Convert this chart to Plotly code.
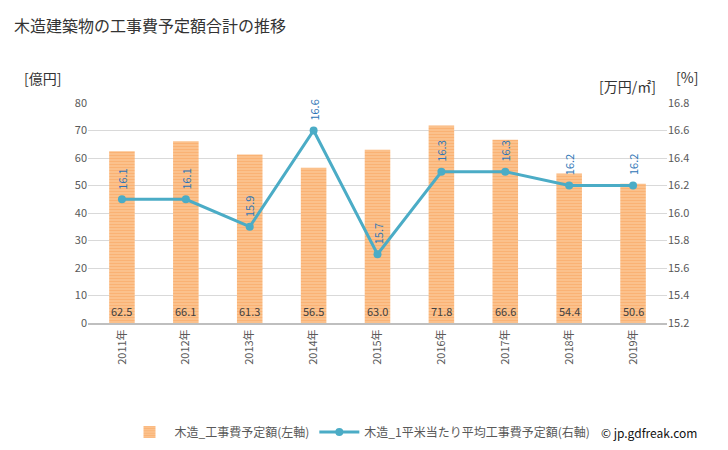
import plotly.graph_objects as go

years = ["2011年", "2012年", "2013年", "2014年", "2015年", "2016年", "2017年", "2018年", "2019年"]
cost = [62.5, 66.1, 61.3, 56.5, 63.0, 71.8, 66.6, 54.4, 50.6]
unit_cost = [16.1, 16.1, 15.9, 16.6, 15.7, 16.3, 16.3, 16.2, 16.2]

font = "Noto Sans CJK JP"
W, H = 728, 450
L, R, T, B = 88, 61, 103, 127
PW, PH = W - L - R, H - T - B


def px(x):
    return (x - L) / PW


def py(y):
    return (H - B - y) / PH


fig = go.Figure()
fig.add_trace(go.Bar(
    x=years, y=cost, name="木造_工事費予定額(左軸)",
    marker=dict(color="#FDCFA2", line=dict(width=0),
                pattern=dict(shape="-", fgcolor="#F79646", size=3, solidity=0.65)),
    width=0.4, yaxis="y",
))
fig.add_trace(go.Scatter(
    x=years, y=unit_cost, name="木造_1平米当たり平均工事費予定額(右軸)",
    mode="lines+markers", line=dict(color="#4BACC6", width=3),
    marker=dict(size=8, color="#4BACC6"), yaxis="y2",
))

for x, v in zip(years, cost):
    fig.add_annotation(x=x, y=0, xref="x", yref="y", text=f"{v:.1f}",
                       showarrow=False, yanchor="bottom", yshift=2,
                       font=dict(size=11, color="#404040", family=font))
for x, v in zip(years, unit_cost):
    fig.add_annotation(x=x, y=v, xref="x", yref="y2", text=f"{v:.1f}",
                       showarrow=False, yanchor="bottom", yshift=8, textangle=-90,
                       font=dict(size=11, color="#2E75B6", family=font))

extra = [
    dict(text="木造建築物の工事費予定額合計の推移", x=12, y=25, size=16, color="#333333", anchor="left"),
    dict(text="[億円]", x=22, y=78, size=14, color="#333333", anchor="left"),
    dict(text="[万円/㎡]", x=658, y=86, size=14, color="#333333", anchor="right"),
    dict(text="[%]", x=674, y=77, size=14, color="#333333", anchor="left"),
    dict(text="© jp.gdfreak.com", x=699, y=432, size=12, color="#111111", anchor="right"),
]
for e in extra:
    fig.add_annotation(text=e["text"], x=px(e["x"]), y=py(e["y"]),
                       xref="paper", yref="paper", showarrow=False,
                       xanchor=e["anchor"], yanchor="middle",
                       font=dict(size=e["size"], color=e["color"], family=font))

fig.update_layout(
    width=W, height=H,
    margin=dict(l=L, r=R, t=T, b=B, autoexpand=False),
    paper_bgcolor="white", plot_bgcolor="white",
    font=dict(family=font, size=11, color="#595959"),
    showlegend=True,
    legend=dict(orientation="h", x=px(360), xanchor="center", y=py(432), yanchor="middle",
                font=dict(size=12, color="#595959"), itemwidth=40),
    xaxis=dict(tickangle=-90, showline=True, linecolor="#BFBFBF", linewidth=2,
               tickfont=dict(size=11, color="#595959"), ticks=""),
    yaxis=dict(range=[0, 80], dtick=10, showgrid=True, gridcolor="#D9D9D9",
               zeroline=False, tickfont=dict(size=11, color="#595959")),
    yaxis2=dict(range=[15.2, 16.8], dtick=0.2, tickformat=".1f", overlaying="y",
                side="right", showgrid=False, zeroline=False,
                tickfont=dict(size=11, color="#595959")),
)

fig.write_html("out.html", config={"displayModeBar": False},
               post_script="document.body.style.margin='0';")
